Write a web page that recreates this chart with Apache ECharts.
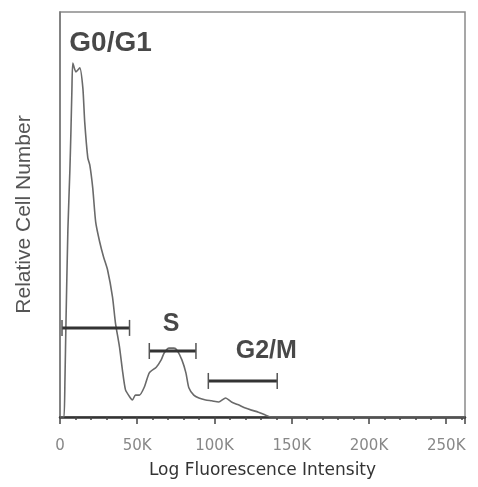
<!DOCTYPE html>
<html>
<head>
<meta charset="utf-8">
<script src="https://cdn.jsdelivr.net/npm/echarts@6/dist/echarts.min.js"></script>
<style>
html,body{margin:0;padding:0;background:#fff;}
#chart{width:478px;height:487px;}
</style>
</head>
<body>
<div id="chart"></div>
<script>
// Histogram trace: fluorescence (x) and relative cell number (y, 0-100)
const fluorescence = [0, 1300, 2600, 3200, 3900, 5100, 6400, 7100, 7700, 8300, 10300, 12800, 14800, 16000, 18000, 19300, 21200, 23100, 25700, 28200, 30800, 34000, 35900, 38500, 40400, 42400, 45600, 46900, 48800, 51400, 54600, 57800, 62300, 65500, 67400, 70600, 73800, 75700, 78900, 81500, 83400, 86600, 89900, 94300, 98200, 102700, 107200, 111000, 115500, 120000, 123900, 128400, 132900, 136700, 180000, 262144];
const cellCount = [0, 0, 0, 9.1, 24.0, 46.2, 61.0, 70.9, 80.7, 87.4, 85.2, 86.2, 81.2, 72.8, 64.0, 62.2, 56.5, 48.1, 43.2, 39.5, 36.3, 29.6, 23.2, 17.3, 11.6, 6.7, 4.7, 4.2, 5.4, 5.4, 7.4, 10.9, 12.3, 14.1, 15.8, 17.0, 17.0, 16.5, 14.1, 10.9, 7.2, 5.4, 4.7, 4.2, 4.0, 3.7, 4.7, 3.7, 3.0, 2.2, 1.7, 1.2, 0.5, 0, 0, 0];

// Gate brackets
const gateNames = ['G0/G1', 'S', 'G2/M'];
const gateStart = [1300, 57800, 96000];
const gateEnd = [45000, 88000, 140600];
const gateLevel = [22.0, 16.3, 8.9];

// Gate labels
const labelX = [32700, 71900, 133500];
const labelY = [92.3, 23.0, 16.3];
const labelSize = [28, 25, 25];

const xTicks = [0, 50000, 100000, 150000, 200000, 250000];

const curve = fluorescence.map((v, i) => [v, cellCount[i]]);
const brackets = gateNames.map((n, i) => [gateStart[i], gateEnd[i], gateLevel[i]]);
const labels = gateNames.map((n, i) => ({ name: n, value: [labelX[i], labelY[i]], label: { fontSize: labelSize[i] } }));

const chart = echarts.init(document.getElementById('chart'));
chart.setOption({
  animation: false,
  backgroundColor: '#fff',
  grid: { left: 60, right: 13, top: 12, bottom: 70, show: true, borderColor: '#8a8a8a', borderWidth: 1.5, backgroundColor: 'transparent' },
  xAxis: {
    type: 'value', min: 0, max: 262144, interval: 50000,
    name: 'Log Fluorescence Intensity', nameLocation: 'middle', nameGap: 45,
    nameTextStyle: { fontFamily: 'DejaVu Sans', fontSize: 17, color: '#333' },
    axisLine: { lineStyle: { color: '#333', width: 2.5 } },
    axisTick: { show: true, length: 7, lineStyle: { color: '#444', width: 1.5 } },
    minorTick: { show: true, splitNumber: 5, length: 3, lineStyle: { color: '#444', width: 1.5 } },
    axisLabel: { margin: 22, fontFamily: 'DejaVu Sans', fontSize: 15, color: '#888',
      formatter: v => xTicks.includes(v) ? (v === 0 ? '0' : (v / 1000) + 'K') : '' },
    splitLine: { show: false }
  },
  yAxis: {
    type: 'value', min: 0, max: 100,
    name: 'Relative Cell Number', nameLocation: 'middle', nameGap: 25,
    nameTextStyle: { fontFamily: 'Liberation Sans', fontSize: 21, color: '#555' },
    axisLine: { show: true, lineStyle: { color: '#777', width: 1.5 } },
    axisTick: { show: false }, axisLabel: { show: false }, splitLine: { show: false }
  },
  series: [
    {
      type: 'line', data: curve, symbol: 'none', smooth: 0.2,
      lineStyle: { color: '#6a6a6a', width: 1.6 }, z: 3
    },
    {
      type: 'custom', data: brackets, z: 4,
      renderItem: (params, api) => {
        const a = api.coord([api.value(0), api.value(2)]);
        const b = api.coord([api.value(1), api.value(2)]);
        const h = 8;
        const st = { stroke: '#333', lineWidth: 3, fill: null };
        return { type: 'group', children: [
          { type: 'line', shape: { x1: a[0], y1: a[1], x2: b[0], y2: b[1] }, style: st },
          { type: 'line', shape: { x1: a[0], y1: a[1] - h, x2: a[0], y2: a[1] + h }, style: { stroke: '#555', lineWidth: 1.5 } },
          { type: 'line', shape: { x1: b[0], y1: b[1] - h, x2: b[0], y2: b[1] + h }, style: { stroke: '#555', lineWidth: 1.5 } }
        ] };
      }
    },
    {
      type: 'scatter', data: labels, symbolSize: 0, z: 5,
      label: { show: true, position: 'inside', formatter: p => p.name, fontFamily: 'Liberation Sans', fontWeight: 'bold', color: '#1a1a1a' }
    }
  ]
});
</script>
</body>
</html>
